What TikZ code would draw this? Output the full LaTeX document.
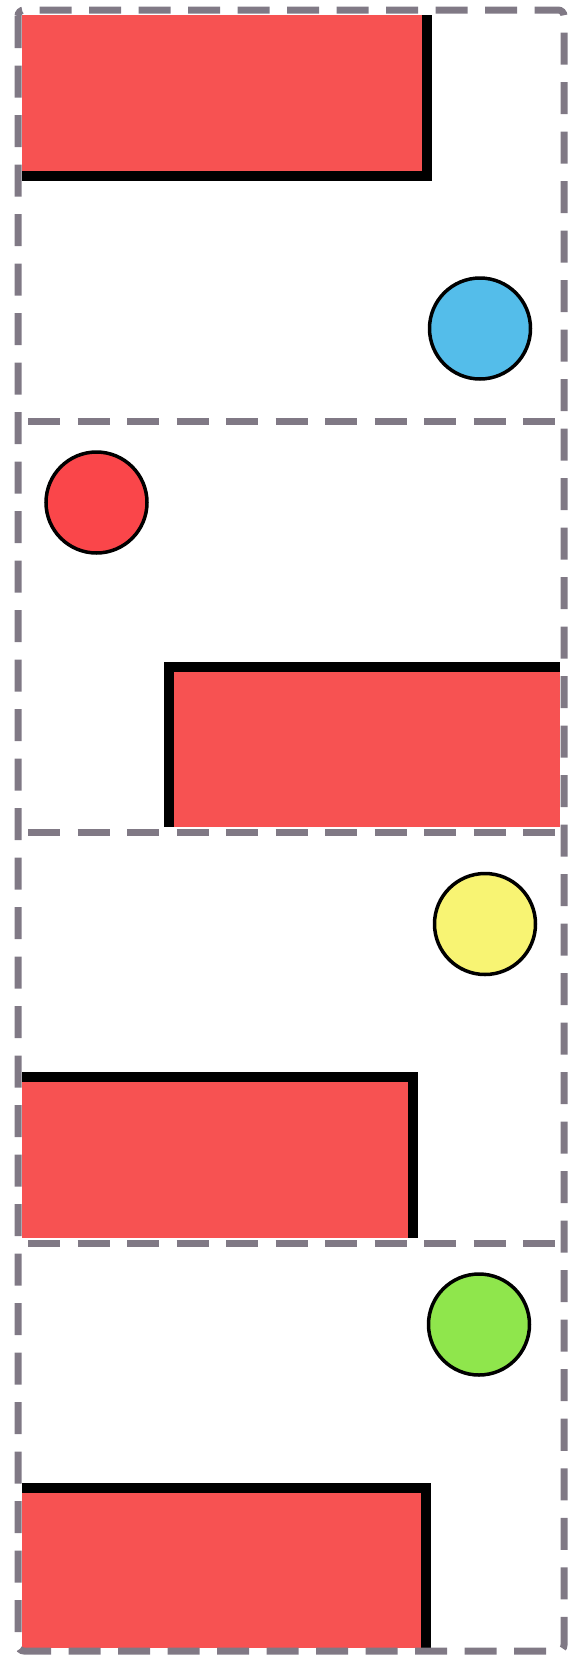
\documentclass[tikz,border=0pt]{standalone}
\definecolor{boxred}{RGB}{247,82,82}
\definecolor{dotred}{RGB}{250,70,74}
\definecolor{dotblue}{RGB}{84,189,234}
\definecolor{dotyellow}{RGB}{248,244,115}
\definecolor{dotgreen}{RGB}{143,230,76}
\definecolor{frame}{RGB}{128,121,133}
\tikzset{
  dot/.style={circle, draw=black, line width=3.5pt, minimum size=101pt, inner sep=0pt},
  framedash/.style={draw=frame, line width=7pt, dash pattern=on 32pt off 17.5pt},
}
\begin{document}
\begin{tikzpicture}[x=1pt,y=-1pt]
\useasboundingbox (0,0) rectangle (581,1655);
% panel 1
\fill[black] (22,15) rectangle (432,181);
\fill[boxred] (22,15) rectangle (422,171);
\node[dot, fill=dotblue] (blue) at (480,328.5) {};
% panel 2
\node[dot, fill=dotred] (red) at (96.5,502.5) {};
\fill[black] (164,662) rectangle (560,827);
\fill[boxred] (174,672) rectangle (560,827);
% panel 3
\node[dot, fill=dotyellow] (yellow) at (485,924) {};
\fill[black] (22,1072) rectangle (418,1238);
\fill[boxred] (22,1082) rectangle (408,1238);
% panel 4
\node[dot, fill=dotgreen] (green) at (479,1324.5) {};
\fill[black] (22,1483) rectangle (431,1648);
\fill[boxred] (22,1493) rectangle (421,1648);
% frame
\draw[framedash, rounded corners=6pt] (18,10) rectangle (564,1651);
\draw[framedash] (28,421) -- (559,421);
\draw[framedash] (28,832) -- (559,832);
\draw[framedash] (28,1243) -- (559,1243);
\end{tikzpicture}
\end{document}
